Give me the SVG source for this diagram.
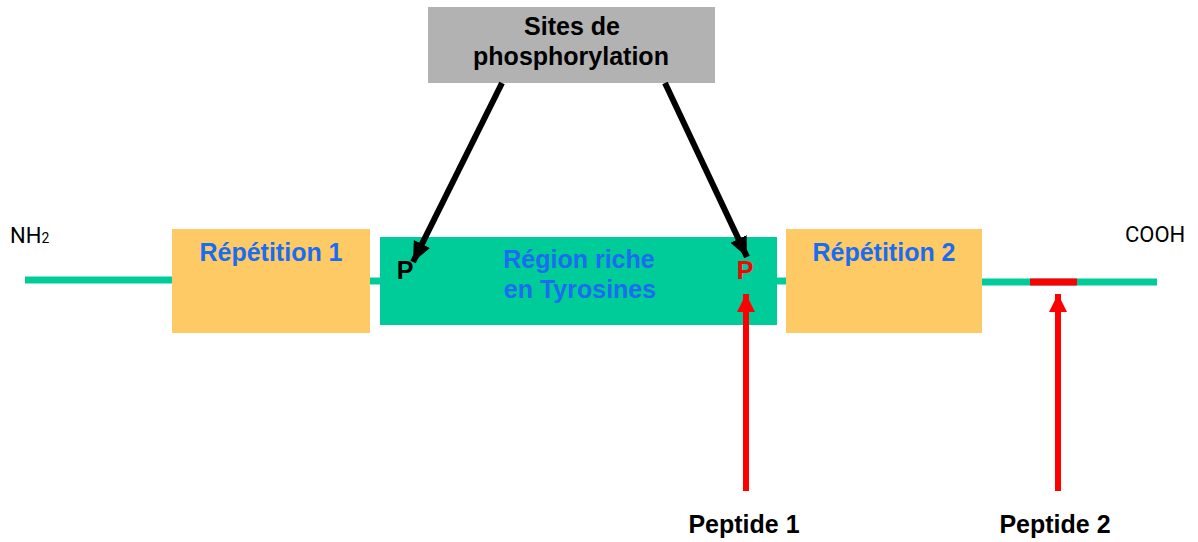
<svg xmlns="http://www.w3.org/2000/svg" width="1198" height="542" viewBox="0 0 1198 542">
<style>
.bb{stroke:#00cc99;stroke-width:7;fill:none}
.rep{fill:#fdca66}
.blue{font-family:"Liberation Sans",Arial,sans-serif;font-weight:bold;font-size:25px;fill:#1a6cf0;text-anchor:middle}
.blk{font-family:"Liberation Sans",Arial,sans-serif;font-weight:bold;font-size:25px;fill:#000;text-anchor:middle}
.term{font-family:Roboto,"Liberation Sans",sans-serif;font-size:22px;fill:#000}
.ka{stroke:#000;stroke-width:6;fill:none}
.ra{stroke:#ff0000;stroke-width:6;fill:none}
</style>
<defs>
<marker id="ah" markerUnits="userSpaceOnUse" markerWidth="22" markerHeight="18" refX="20" refY="9" orient="auto">
<path d="M0,0 L20,9 L0,18 Z" fill="#000"/>
</marker>
<marker id="rh" markerUnits="userSpaceOnUse" markerWidth="20" markerHeight="18" refX="18" refY="9" orient="auto">
<path d="M0,0 L18,9 L0,18 Z" fill="#ff0000"/>
</marker>
</defs>
<rect width="1198" height="542" fill="#fff"/>
<g id="backbone">
<line class="bb" x1="25" y1="280" x2="172" y2="280"/>
<line class="bb" x1="370" y1="281" x2="380" y2="281"/>
<line class="bb" x1="777" y1="281" x2="786" y2="281"/>
<line class="bb" x1="982" y1="282" x2="1157" y2="282"/>
<line x1="1030" y1="282" x2="1077" y2="282" stroke="#ff0000" stroke-width="7"/>
</g>
<g id="nh2"><text class="term" x="10" y="243" font-size="21">NH<tspan font-size="14">2</tspan></text></g>
<g id="cooh"><text class="term" x="1125" y="242">COOH</text></g>
<g id="repetition1">
<rect class="rep" x="172" y="229" width="198" height="104"/>
<text class="blue" x="271" y="261">Répétition 1</text>
</g>
<g id="region">
<rect x="380" y="237" width="397" height="88" fill="#00cc99"/>
<text class="blue" x="579" y="268">Région riche</text>
<text class="blue" x="580" y="298">en Tyrosines</text>
<text class="blk" x="405" y="279" font-size="24">P</text>
<text class="blk" x="745" y="279" font-size="24" style="fill:#ff0000">P</text>
</g>
<g id="repetition2">
<rect class="rep" x="786" y="229" width="196" height="104"/>
<text class="blue" x="884" y="261">Répétition 2</text>
</g>
<g id="sites">
<rect x="428" y="7" width="287" height="76" fill="#b2b2b2"/>
<text class="blk" x="572" y="35">Sites de</text>
<text class="blk" x="571" y="65">phosphorylation</text>
</g>
<g id="peptide1"><text class="blk" x="744" y="533">Peptide 1</text></g>
<g id="peptide2"><text class="blk" x="1055" y="533">Peptide 2</text></g>
<g id="connectors">
<line class="ka" x1="502" y1="83" x2="413" y2="262" marker-end="url(#ah)"/>
<line class="ka" x1="665" y1="83" x2="747" y2="257" marker-end="url(#ah)"/>
<line class="ra" x1="746" y1="491" x2="746" y2="294" marker-end="url(#rh)"/>
<line class="ra" x1="1058" y1="491" x2="1058" y2="294" marker-end="url(#rh)"/>
</g>
</svg>
